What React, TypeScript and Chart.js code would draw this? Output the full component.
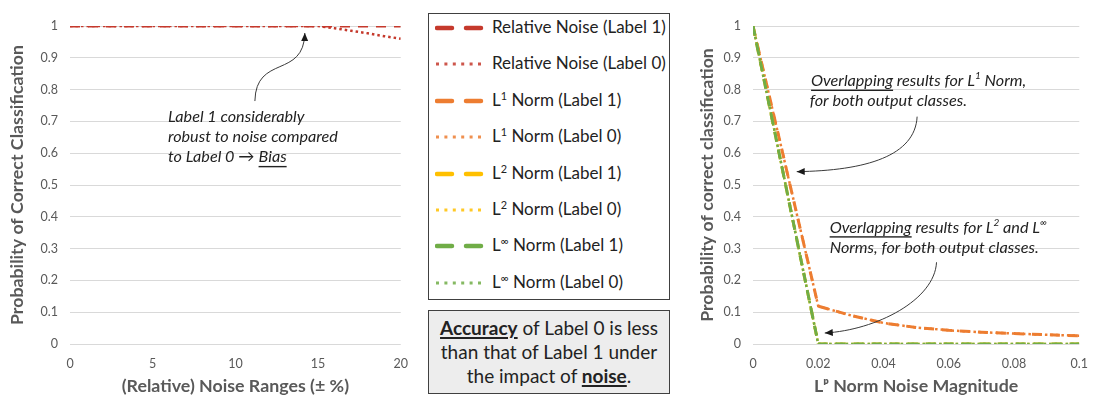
import React, { useEffect, useRef } from 'react';
import { Chart, registerables } from 'chart.js';

Chart.register(...registerables);

const FONT = 'Lato, "Open Sans", "DejaVu Sans", sans-serif';
const AXIS_GRAY = '#595959';
const GRID_GRAY = '#D9D9D9';
const INK = '#222222';

const RED = '#C5392C';
const ORANGE = '#ED7D31';
const YELLOW = '#FFC000';
const GREEN = '#70AD47';

const DASH = [10, 8];
const DOT = [2.5, 3];

// Relative noise sweep (± %)
const noiseRanges = [0, 1, 2, 3, 4, 5, 6, 7, 8, 9, 10, 11, 12, 13, 14, 15, 16, 17, 18, 19, 20];
const relNoiseLabel1 = [1, 1, 1, 1, 1, 1, 1, 1, 1, 1, 1, 1, 1, 1, 1, 1, 1, 1, 1, 1, 1];
const relNoiseLabel0 = [1, 1, 1, 1, 1, 1, 1, 1, 1, 1, 1, 1, 1, 1, 1, 1, 0.993, 0.985, 0.977, 0.968, 0.96];

// Lp-norm noise magnitude sweep
const normMagnitudes = [0, 0.01, 0.02, 0.03, 0.04, 0.05, 0.06, 0.07, 0.08, 0.09, 0.1];
const l1Label1 = [1, 0.56, 0.119, 0.09, 0.066, 0.052, 0.043, 0.037, 0.033, 0.029, 0.026];
const l1Label0 = [1, 0.56, 0.119, 0.09, 0.066, 0.052, 0.043, 0.037, 0.033, 0.029, 0.026];
const l2Label1 = [1, 0.5, 0, 0, 0, 0, 0, 0, 0, 0, 0];
const l2Label0 = [1, 0.5, 0, 0, 0, 0, 0, 0, 0, 0, 0];
const lInfLabel1 = [1, 0.5, 0, 0, 0, 0, 0, 0, 0, 0, 0];
const lInfLabel0 = [1, 0.5, 0, 0, 0, 0, 0, 0, 0, 0, 0];

type Kind = 'dash' | 'dot';
type Series = { name: [string, string, string]; values: number[]; color: string; kind: Kind };

const noiseSeries: Series[] = [
  { name: ['Relative Noise (Label 1)', '', ''], values: relNoiseLabel1, color: RED, kind: 'dash' },
  { name: ['Relative Noise (Label 0)', '', ''], values: relNoiseLabel0, color: RED, kind: 'dot' },
];

const normSeries: Series[] = [
  { name: ['L', '1', ' Norm (Label 1)'], values: l1Label1, color: ORANGE, kind: 'dash' },
  { name: ['L', '1', ' Norm (Label 0)'], values: l1Label0, color: ORANGE, kind: 'dot' },
  { name: ['L', '2', ' Norm (Label 1)'], values: l2Label1, color: YELLOW, kind: 'dash' },
  { name: ['L', '2', ' Norm (Label 0)'], values: l2Label0, color: YELLOW, kind: 'dot' },
  { name: ['L', '∞', ' Norm (Label 1)'], values: lInfLabel1, color: GREEN, kind: 'dash' },
  { name: ['L', '∞', ' Norm (Label 0)'], values: lInfLabel0, color: GREEN, kind: 'dot' },
];

const legendSeries = [...noiseSeries, ...normSeries];

// Later series are painted over earlier ones
function toDataset(s: Series, xs: number[], i: number, n: number) {
  return {
    label: s.name.join(''),
    data: xs.map((x, k) => ({ x, y: s.values[k] })),
    borderColor: s.color,
    backgroundColor: s.color,
    borderWidth: s.kind === 'dash' ? 3 : 2.5,
    borderDash: s.kind === 'dash' ? DASH : DOT,
    borderCapStyle: 'butt',
    pointRadius: 0,
    fill: false,
    tension: 0,
    order: n - i,
  };
}

type Run = { t: string; sup?: boolean; u?: boolean; upright?: boolean };
type Note = { x: number; y: number; runs: Run[] };
type Curve = [number, number][];

const NOTE_SIZE = 16.2;

function drawRuns(ctx: CanvasRenderingContext2D, runs: Run[], x: number, yMid: number, size: number) {
  let cx = x;
  ctx.textBaseline = 'middle';
  ctx.textAlign = 'left';
  ctx.fillStyle = INK;
  for (const r of runs) {
    const fs = r.sup ? size * 0.62 : size;
    ctx.font = `${r.upright ? '' : 'italic '}${fs}px ${FONT}`;
    const w = ctx.measureText(r.t).width;
    ctx.fillText(r.t, cx, r.sup ? yMid - size * 0.28 : yMid);
    if (r.u) ctx.fillRect(cx, yMid + size * 0.55, w, 1.4);
    cx += w;
  }
}

function drawArrow(ctx: CanvasRenderingContext2D, p: Curve) {
  const [p0, p1, p2, p3] = p;
  ctx.strokeStyle = '#3A3A3A';
  ctx.fillStyle = '#1A1A1A';
  ctx.lineWidth = 1;
  ctx.setLineDash([]);
  ctx.beginPath();
  ctx.moveTo(p0[0], p0[1]);
  ctx.bezierCurveTo(p1[0], p1[1], p2[0], p2[1], p3[0], p3[1]);
  ctx.stroke();
  const a = Math.atan2(p3[1] - p2[1], p3[0] - p2[0]);
  const len = 8;
  const half = 3.5;
  const bx = p3[0] - len * Math.cos(a);
  const by = p3[1] - len * Math.sin(a);
  ctx.beginPath();
  ctx.moveTo(p3[0], p3[1]);
  ctx.lineTo(bx - half * Math.sin(a), by + half * Math.cos(a));
  ctx.lineTo(bx + half * Math.sin(a), by - half * Math.cos(a));
  ctx.closePath();
  ctx.fill();
}

function notesPlugin(id: string, notes: Note[], arrows: Curve[]) {
  return {
    id,
    afterDraw(chart: any) {
      const { ctx, scales } = chart;
      const px = (v: number) => scales.x.getPixelForValue(v);
      const py = (v: number) => scales.y.getPixelForValue(v);
      ctx.save();
      for (const n of notes) drawRuns(ctx, n.runs, px(n.x), py(n.y), NOTE_SIZE);
      for (const a of arrows) drawArrow(ctx, a.map(([x, y]) => [px(x), py(y)] as [number, number]));
      ctx.restore();
    },
  };
}

// Callout on the relative-noise chart (data coordinates)
const noiseNotes: Note[] = [
  { x: 5.92, y: 0.714, runs: [{ t: 'Label 1 considerably' }] },
  { x: 5.92, y: 0.652, runs: [{ t: 'robust to noise compared' }] },
  { x: 5.92, y: 0.588, runs: [{ t: 'to Label 0 ' }, { t: '→ ', upright: true }, { t: 'Bias', u: true }] },
];
const noiseArrows: Curve[] = [
  [[11.18, 0.764], [11.24, 0.912], [14.14, 0.833], [14.2, 0.978]],
];

// Callouts on the Lp-norm chart (data coordinates)
const normNotes: Note[] = [
  { x: 0.0178, y: 0.828, runs: [{ t: 'Overlapping', u: true }, { t: ' results for L' }, { t: '1', sup: true }, { t: ' Norm,' }] },
  { x: 0.0174, y: 0.765, runs: [{ t: 'for both output classes.' }] },
  { x: 0.0235, y: 0.367, runs: [{ t: 'Overlapping', u: true }, { t: ' results for L' }, { t: '2', sup: true }, { t: ' and L' }, { t: '∞', sup: true }] },
  { x: 0.0235, y: 0.304, runs: [{ t: 'Norms, for both output classes.' }] },
];
const normArrows: Curve[] = [
  [[0.0503, 0.715], [0.0497, 0.592], [0.0348, 0.545], [0.0134, 0.542]],
  [[0.05625, 0.257], [0.05565, 0.138], [0.0378, 0.0439], [0.022, 0.0345]],
];

const TICK_FONT = { family: FONT, size: 12.5 };
const TITLE_FONT = { family: FONT, size: 17.8, weight: 'bold' as const, lineHeight: 1.2 };

function yAxis(title: string, width: number) {
  return {
    type: 'linear',
    min: 0,
    max: 1,
    ticks: {
      stepSize: 0.1,
      color: AXIS_GRAY,
      font: TICK_FONT,
      padding: 12,
      callback: (v: number) => String(Math.round(v * 10) / 10),
    },
    grid: { color: GRID_GRAY, lineWidth: 1, drawTicks: false },
    border: { display: false },
    title: { display: true, text: title, color: AXIS_GRAY, font: TITLE_FONT, padding: { top: 7, bottom: 0 } },
    afterFit: (s: any) => {
      s.width = width;
    },
  };
}

function xAxis(title: string, min: number, max: number, step: number) {
  return {
    type: 'linear',
    min,
    max,
    ticks: {
      stepSize: step,
      color: AXIS_GRAY,
      font: TICK_FONT,
      padding: 12,
      maxRotation: 0,
      callback: (v: number) => String(Math.round(v * 1000) / 1000),
    },
    grid: { display: false, drawTicks: false },
    border: { display: false },
    title: { display: true, text: title, color: AXIS_GRAY, font: TITLE_FONT, padding: { top: 0, bottom: 0 } },
    afterFit: (s: any) => {
      s.height = 53;
    },
  };
}

function LineChart(props: {
  left: number;
  width: number;
  datasets: any[];
  x: any;
  y: any;
  padRight: number;
  plugin: any;
}) {
  const ref = useRef<HTMLCanvasElement>(null);
  useEffect(() => {
    if (!ref.current) return;
    const chart = new Chart(ref.current, {
      type: 'line',
      data: { datasets: props.datasets },
      options: {
        responsive: false,
        animation: false,
        devicePixelRatio: 1,
        layout: { padding: { top: 26, right: props.padRight, left: 0, bottom: 0 } },
        plugins: { legend: { display: false }, tooltip: { enabled: false } },
        scales: { x: props.x, y: props.y },
      } as any,
      plugins: [props.plugin],
    });
    return () => chart.destroy();
  }, []);
  return (
    <canvas
      ref={ref}
      width={props.width}
      height={397}
      style={{ position: 'absolute', left: props.left, top: 0, width: props.width, height: 397 }}
    />
  );
}

function Sample({ color, kind }: { color: string; kind: Kind }) {
  return (
    <svg width={50} height={10} style={{ position: 'absolute', left: 6, top: 8 }}>
      {kind === 'dash' ? (
        <line x1={2} y1={5} x2={47} y2={5} stroke={color} strokeWidth={4.5} strokeDasharray="15 14" strokeLinecap="round" />
      ) : (
        <line x1={1} y1={5} x2={49} y2={5} stroke={color} strokeWidth={3} strokeDasharray="3 5.4" opacity={0.85} />
      )}
    </svg>
  );
}

function Legend() {
  return (
    <div
      style={{
        position: 'absolute',
        left: 428,
        top: 13,
        width: 242,
        height: 287,
        boxSizing: 'border-box',
        border: '1px solid #404040',
        background: '#fff',
      }}
    >
      {legendSeries.map((s, i) => (
        <div key={i} style={{ position: 'absolute', left: 0, top: 1 + i * 36.4, height: 26, width: 238 }}>
          <Sample color={s.color} kind={s.kind} />
          <span
            style={{
              position: 'absolute',
              left: 63,
              top: 2,
              font: `17px ${FONT}`,
              color: INK,
              whiteSpace: 'nowrap',
              lineHeight: '20px',
            }}
          >
            {s.name[0]}
            {s.name[1] && <span style={{ fontSize: '0.64em', position: 'relative', top: '-0.55em' }}>{s.name[1]}</span>}
            {s.name[2]}
          </span>
        </div>
      ))}
    </div>
  );
}

function Summary() {
  const u = { textDecoration: 'underline', textDecorationThickness: '2px', textUnderlineOffset: '2px' };
  return (
    <div
      style={{
        position: 'absolute',
        left: 428,
        top: 310,
        width: 242,
        height: 84,
        boxSizing: 'border-box',
        border: '1px solid #404040',
        background: '#EDEDED',
        textAlign: 'center',
        font: `19px ${FONT}`,
        lineHeight: '24px',
        paddingTop: 5,
        color: INK,
        whiteSpace: 'nowrap',
      }}
    >
      <b style={u}>Accuracy</b> of Label 0 is less
      <br />
      than that of Label 1 under
      <br />
      the impact of <b style={u}>noise</b>.
    </div>
  );
}

export default function App() {
  const noiseDatasets = noiseSeries.map((s, i) => toDataset(s, noiseRanges, i, noiseSeries.length));
  const normDatasets = normSeries.map((s, i) => toDataset(s, normMagnitudes, i, normSeries.length));
  return (
    <div style={{ position: 'absolute', left: 0, top: 0, width: 1100, height: 397, background: '#fff' }}>
      <LineChart
        left={0}
        width={420}
        padRight={19}
        datasets={noiseDatasets}
        x={xAxis('(Relative) Noise Ranges (± %)', 0, 20, 5)}
        y={yAxis('Probability of Correct Classification', 70)}
        plugin={notesPlugin('noiseNotes', noiseNotes, noiseArrows)}
      />
      <Legend />
      <Summary />
      <LineChart
        left={690}
        width={410}
        padRight={11}
        datasets={normDatasets}
        x={xAxis('Lᵖ Norm Noise Magnitude', 0, 0.1, 0.02)}
        y={yAxis('Probability of correct classification', 63)}
        plugin={notesPlugin('normNotes', normNotes, normArrows)}
      />
    </div>
  );
}
